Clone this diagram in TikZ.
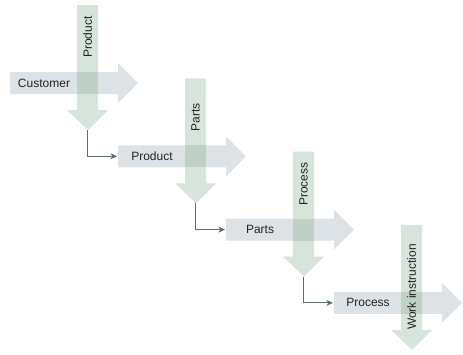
\documentclass[tikz,border=0pt]{standalone}
\usepackage{fontspec}
\setmainfont{Liberation Sans}
\usepackage{xcolor}
\usepackage{tikz}
\usetikzlibrary{arrows.meta,calc}
\definecolor{cgrisazul}{HTML}{DDE2E6}
\definecolor{cverdeclaro}{HTML}{D7E4DB}
\definecolor{ccruce}{HTML}{BFD1C5}
\definecolor{clinea}{HTML}{5F6B73}
\definecolor{ctexto}{HTML}{222222}
\tikzset{
  flujoh/.style={fill=cgrisazul},
  flujov/.style={fill=cverdeclaro},
  cruce/.style={fill=ccruce},
  etq/.style={font=\fontsize{9}{10}\selectfont, text=ctexto, inner sep=0pt},
  flecha/.style={-{Stealth[length=5pt,width=4.5pt]}, draw=clinea, line width=0.7pt},
}
% one step: #1 index, #2 flow label, #3 crossing label, #4 height of crossing label
\newcommand{\paso}[4]{%
  \begin{scope}[shift={({108*(#1-1)},{73.3*(#1-1)})}]
    \fill[flujoh] (10,72) -- (118,72) -- (118,63) -- (138,83) -- (118,103) -- (118,94) -- (10,94) -- cycle;
    \fill[flujov] (77,5) -- (98,5) -- (98,110) -- (108,110) -- (88,130) -- (67,110) -- (77,110) -- cycle;
    \fill[cruce] (77,72) rectangle (98,94);
    \coordinate (cola#1) at (10,83);
    \coordinate (punta#1) at (87.5,130);
    \node[etq] (h#1) at (44,83) {#2};
    \node[etq, rotate=90] (v#1) at (87.5,#4) {#3};
  \end{scope}}

\begin{document}
\begin{tikzpicture}[x=0.75pt, y=-0.75pt]
  \useasboundingbox (0,0) rectangle (463,354);
  \paso{1}{Customer}{Product}{37}
  \paso{2}{Product}{Parts}{44}
  \paso{3}{Parts}{Process}{37.5}
  \paso{4}{Process}{Work instruction}{67}
  \draw[flecha] (punta1) |- ($(cola2)+(-1,0)$);
  \draw[flecha] (punta2) |- ($(cola3)+(-1,0)$);
  \draw[flecha] (punta3) |- ($(cola4)+(-1,0)$);
\end{tikzpicture}
\end{document}
